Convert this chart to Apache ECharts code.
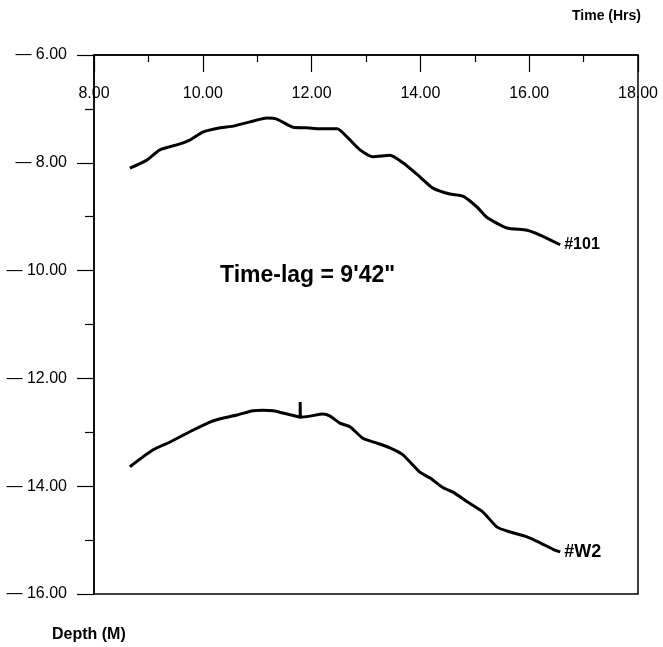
<!DOCTYPE html>
<html><head><meta charset="utf-8">
<script src="https://cdn.jsdelivr.net/npm/echarts@6/dist/echarts.min.js"></script>
<style>html,body{margin:0;padding:0;background:#fff}#c{width:663px;height:647px}</style>
</head><body><div id="c"></div>
<script>
// Time (hrs) and depth (m) readings for each well
var time101 = [8.66,8.97,9.21,9.58,9.76,10.00,10.32,10.56,10.87,11.18,11.36,11.66,11.92,12.15,12.47,12.65,12.89,13.13,13.44,13.68,13.99,14.23,14.54,14.78,15.04,15.22,15.59,15.96,16.20,16.57];
var depth101 = [-8.10,-7.95,-7.76,-7.65,-7.58,-7.43,-7.35,-7.32,-7.24,-7.17,-7.19,-7.34,-7.35,-7.37,-7.37,-7.52,-7.76,-7.89,-7.86,-8.00,-8.26,-8.47,-8.58,-8.62,-8.82,-9.01,-9.21,-9.25,-9.34,-9.52];
var timeW2 = [8.66,9.08,9.40,9.76,10.13,10.32,10.63,10.92,11.11,11.29,11.55,11.79,11.79,11.80,11.97,12.21,12.34,12.52,12.71,12.94,13.20,13.44,13.68,13.99,14.18,14.42,14.60,14.86,15.15,15.41,15.65,15.96,16.20,16.44,16.57];
var depthW2 = [-13.64,-13.33,-13.18,-12.99,-12.81,-12.75,-12.68,-12.60,-12.59,-12.60,-12.66,-12.72,-12.44,-12.72,-12.70,-12.66,-12.70,-12.83,-12.90,-13.11,-13.20,-13.29,-13.42,-13.74,-13.85,-14.03,-14.11,-14.29,-14.48,-14.76,-14.85,-14.94,-15.05,-15.17,-15.22];
var seriesNames = ['#101', '#W2'];
var xTitle = 'Time (Hrs)';
var yTitle = 'Depth (M)';
var note = 'Time-lag = 9\'42"';

function pairs(a, b) { return a.map(function (v, i) { return [v, b[i]]; }); }

var FONT = '"Liberation Sans", Arial, sans-serif';
var chart = echarts.init(document.getElementById('c'));
var lineSeries = function (name, data, fs) {
  return {
    type: 'line', name: name, data: data, showSymbol: false, smooth: 0.2,
    lineStyle: { color: '#000', width: 3 },
    endLabel: { show: true, formatter: '{a}', color: '#000', fontFamily: FONT, fontWeight: 'bold', fontSize: fs, distance: 4 },
    animation: false
  };
};
chart.setOption({
  animation: false,
  grid: { left: 94, top: 55, right: 25, bottom: 53, show: true, borderColor: '#000', borderWidth: 1.5 },
  xAxis: {
    type: 'value', position: 'top', min: 8, max: 18, interval: 2,
    axisLine: { show: true, lineStyle: { color: '#000', width: 1.5 } },
    axisTick: { show: true, inside: true, length: 17, lineStyle: { color: '#000', width: 1.2 } },
    minorTick: { show: true, splitNumber: 2, length: 7, lineStyle: { color: '#000', width: 1.2 } },
    splitLine: { show: false },
    axisLabel: { inside: true, margin: 31, color: '#000', fontFamily: FONT, fontSize: 16,
      formatter: function (v) { return v.toFixed(2); } }
  },
  yAxis: {
    type: 'value', min: -16, max: -6, interval: 2,
    axisLine: { show: true, lineStyle: { color: '#000', width: 1.5 } },
    axisTick: { show: true, inside: false, length: 17, lineStyle: { color: '#000', width: 1.2 } },
    minorTick: { show: true, splitNumber: 2, length: 9, lineStyle: { color: '#000', width: 1.2 } },
    splitLine: { show: false },
    axisLabel: { margin: 27, color: '#000', fontFamily: FONT, fontSize: 16,
      formatter: function (v) { return '\u2014 ' + Math.abs(v).toFixed(2); } }
  },
  graphic: [
    { type: 'text', right: 22, top: 9, style: { text: xTitle, fill: '#000', font: 'bold 14px ' + FONT } },
    { type: 'text', left: 52, top: 627, style: { text: yTitle, fill: '#000', font: 'bold 16px ' + FONT } },
    { type: 'text', left: 220, top: 264, style: { text: note, fill: '#000', font: 'bold 23px ' + FONT } }
  ],
  series: [lineSeries(seriesNames[0], pairs(time101, depth101), 16), lineSeries(seriesNames[1], pairs(timeW2, depthW2), 18)]
});
</script></body></html>
